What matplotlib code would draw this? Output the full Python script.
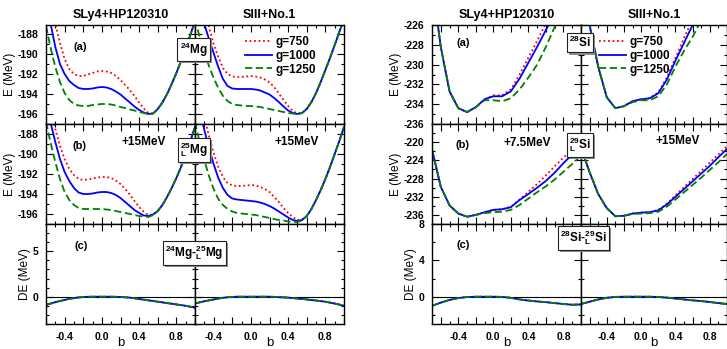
import matplotlib
matplotlib.use("Agg")
import matplotlib.pyplot as plt
from matplotlib import patheffects
from matplotlib.ticker import MultipleLocator, FuncFormatter

plt.rcParams['font.family'] = ['Liberation Sans', 'DejaVu Sans']
plt.rcParams['font.weight'] = 'bold'
plt.rcParams['axes.unicode_minus'] = False
plt.rcParams['mathtext.fontset'] = 'custom'
plt.rcParams['mathtext.rm'] = 'Liberation Sans:bold'
plt.rcParams['mathtext.bf'] = 'Liberation Sans:bold'
plt.rcParams['mathtext.it'] = 'Liberation Sans:bold'
plt.rcParams['mathtext.default'] = 'bf'

# ---- data: deformation b and energies (MeV) for g = 750, 1000, 1250 ----
b_mg = [-0.6, -0.55, -0.5, -0.45, -0.4, -0.35, -0.3, -0.25, -0.2, -0.15, -0.1, -0.05, 0.0,
        0.05, 0.1, 0.15, 0.2, 0.25, 0.3, 0.35, 0.4, 0.45, 0.5, 0.55, 0.6, 0.65, 0.7,
        0.75, 0.8, 0.85, 0.9, 0.95, 1.0]
b_si = [-0.7, -0.6, -0.5, -0.4, -0.3, -0.2, -0.1, 0.0, 0.1, 0.2, 0.3, 0.4, 0.5, 0.6, 0.7, 0.8, 0.9, 1.0]
g_labels = ['g=750', 'g=1000', 'g=1250']

mg24_sly4_g750 = [-183.0, -185.0, -187.0, -188.9, -190.5, -191.5, -192.0, -192.2, -192.2, -192.05, -191.9, -191.75, -191.7,
                  -191.75, -191.9, -192.2, -192.6, -193.1, -193.6, -194.2, -194.85, -195.45, -195.9, -195.95, -195.5, -194.85, -194.0,
                  -193.0, -191.9, -190.7, -189.4, -188.1, -186.7]
mg24_sly4_g1000 = [-184.8, -187.0, -189.3, -191.0, -192.0, -192.7, -193.1, -193.4, -193.5, -193.5, -193.45, -193.35, -193.3,
                   -193.35, -193.5, -193.75, -194.05, -194.45, -194.85, -195.25, -195.6, -195.85, -196.0, -195.95, -195.5, -194.85, -194.0,
                   -193.0, -191.9, -190.7, -189.4, -188.1, -186.7]
mg24_sly4_g1250 = [-187.2, -189.4, -191.3, -192.8, -193.9, -194.6, -195.0, -195.15, -195.2, -195.2, -195.1, -195.05, -195.0,
                   -195.0, -195.05, -195.15, -195.3, -195.4, -195.55, -195.65, -195.8, -195.9, -196.0, -195.95, -195.5, -194.85, -194.0,
                   -193.0, -191.9, -190.7, -189.4, -188.1, -186.7]

mg24_siii_g750 = [-181.5, -183.5, -185.5, -187.3, -189.0, -190.3, -191.4, -192.0, -192.25, -192.3, -192.3, -192.25, -192.2,
                  -192.25, -192.35, -192.55, -192.85, -193.3, -193.95, -194.6, -195.2, -195.7, -195.95, -195.9, -195.5, -194.8, -193.9,
                  -192.8, -191.6, -190.4, -189.1, -187.8, -186.5]
mg24_siii_g1000 = [-183.5, -185.3, -187.0, -188.5, -189.9, -191.3, -192.5, -193.2, -193.45, -193.5, -193.5, -193.5, -193.5,
                   -193.55, -193.65, -193.85, -194.05, -194.4, -194.8, -195.25, -195.65, -195.9, -196.0, -195.9, -195.5, -194.8, -193.9,
                   -192.8, -191.6, -190.4, -189.1, -187.8, -186.5]
mg24_siii_g1250 = [-186.5, -188.3, -189.9, -191.2, -192.4, -193.4, -194.2, -194.7, -195.0, -195.1, -195.15, -195.2, -195.2,
                   -195.25, -195.3, -195.4, -195.5, -195.6, -195.7, -195.8, -195.9, -195.95, -196.0, -195.9, -195.5, -194.8, -193.9,
                   -192.8, -191.6, -190.4, -189.1, -187.8, -186.5]

mg25_sly4_g750 = [-183.5, -185.5, -187.5, -189.2, -190.5, -191.5, -192.1, -192.5, -192.6, -192.55, -192.45, -192.35, -192.3,
                  -192.3, -192.4, -192.65, -193.0, -193.5, -194.05, -194.7, -195.3, -195.8, -196.1, -196.05, -195.7, -195.1, -194.3,
                  -193.4, -192.4, -191.3, -190.0, -188.7, -187.3]
mg25_sly4_g1000 = [-185.0, -186.9, -188.8, -190.5, -191.8, -192.7, -193.4, -193.85, -194.0, -194.0, -193.95, -193.85, -193.8,
                   -193.8, -193.9, -194.1, -194.4, -194.8, -195.2, -195.6, -195.9, -196.15, -196.2, -196.05, -195.7, -195.1, -194.3,
                   -193.4, -192.4, -191.3, -190.0, -188.7, -187.3]
mg25_sly4_g1250 = [-186.8, -188.9, -190.8, -192.5, -193.8, -194.6, -195.1, -195.4, -195.5, -195.5, -195.5, -195.5, -195.5,
                   -195.55, -195.6, -195.7, -195.8, -195.9, -196.0, -196.1, -196.2, -196.25, -196.3, -196.1, -195.7, -195.1, -194.3,
                   -193.4, -192.4, -191.3, -190.0, -188.7, -187.3]

mg25_siii_g750 = [-182.0, -184.2, -186.3, -188.2, -189.9, -191.3, -192.3, -192.9, -193.15, -193.2, -193.2, -193.15, -193.1,
                  -193.15, -193.3, -193.5, -193.8, -194.3, -194.8, -195.4, -195.9, -196.3, -196.6, -196.55, -196.2, -195.5, -194.6,
                  -193.6, -192.5, -191.3, -190.0, -188.7, -187.3]
mg25_siii_g1000 = [-183.5, -185.6, -187.6, -189.4, -191.0, -192.4, -193.4, -194.1, -194.45, -194.55, -194.6, -194.65, -194.7,
                   -194.75, -194.85, -195.0, -195.2, -195.45, -195.75, -196.05, -196.35, -196.6, -196.7, -196.6, -196.2, -195.5, -194.6,
                   -193.6, -192.5, -191.3, -190.0, -188.7, -187.3]
mg25_siii_g1250 = [-186.8, -188.8, -190.6, -192.2, -193.5, -194.5, -195.1, -195.5, -195.75, -195.9, -195.95, -196.0, -196.05,
                   -196.1, -196.2, -196.3, -196.4, -196.5, -196.6, -196.65, -196.75, -196.8, -196.8, -196.65, -196.2, -195.5, -194.6,
                   -193.6, -192.5, -191.3, -190.0, -188.7, -187.3]

de_mg_sly4 = [-0.9, -0.75, -0.6, -0.47, -0.35, -0.24, -0.15, -0.08, -0.03, -0.01, 0.0, 0.0, 0.0,
              0.0, 0.0, -0.01, -0.03, -0.06, -0.1, -0.17, -0.25, -0.32, -0.4, -0.47, -0.55, -0.62, -0.7,
              -0.77, -0.85, -0.92, -1.0, -1.1, -1.2]
de_mg_siii = [-0.74, -0.62, -0.5, -0.4, -0.3, -0.2, -0.12, -0.06, -0.02, 0.0, 0.0, 0.0, 0.0,
              0.0, 0.0, 0.0, 0.0, -0.02, -0.05, -0.07, -0.1, -0.15, -0.2, -0.25, -0.3, -0.36, -0.42,
              -0.48, -0.55, -0.65, -0.75, -0.87, -1.0]

si28_sly4_g750 = [-221.5, -228.2, -232.7, -234.4, -234.8, -234.3, -233.5, -233.1, -233.1, -232.5, -231.0, -229.3, -227.6, -225.8, -224.0, -222.2, -220.4, -218.6]
si28_sly4_g1000 = [-221.5, -228.2, -232.7, -234.4, -234.8, -234.3, -233.5, -233.2, -233.2, -232.7, -231.4, -229.8, -228.2, -226.5, -224.8, -223.0, -221.0, -219.0]
si28_sly4_g1250 = [-221.5, -228.2, -232.7, -234.4, -234.8, -234.3, -233.6, -233.6, -233.7, -233.4, -232.5, -231.3, -230.0, -228.2, -226.2, -224.2, -222.2, -220.2]

si28_siii_g750 = [-220.0, -226.0, -230.2, -233.3, -234.4, -234.2, -233.7, -233.5, -233.4, -232.8, -231.3, -229.3, -227.3, -225.4, -223.4, -221.4, -219.4, -217.4]
si28_siii_g1000 = [-220.0, -226.0, -230.2, -233.3, -234.4, -234.2, -233.7, -233.5, -233.4, -232.9, -231.5, -229.6, -227.8, -226.0, -224.0, -222.0, -220.0, -218.0]
si28_siii_g1250 = [-220.0, -226.0, -230.2, -233.3, -234.4, -234.2, -233.8, -233.6, -233.6, -233.2, -232.0, -230.2, -228.6, -227.2, -225.5, -223.8, -222.0, -220.2]

si29_sly4_g750 = [-221.6, -229.8, -233.9, -235.7, -236.4, -236.0, -235.4, -234.9, -234.75, -234.2, -232.6, -230.9, -229.2, -227.3, -225.3, -223.4, -221.6, -220.0]
si29_sly4_g1000 = [-221.6, -229.8, -233.9, -235.7, -236.4, -236.0, -235.4, -234.9, -234.75, -234.3, -232.7, -231.4, -230.0, -228.5, -226.7, -224.6, -222.7, -221.0]
si29_sly4_g1250 = [-221.6, -229.8, -233.9, -235.7, -236.4, -236.0, -235.6, -235.4, -235.3, -234.9, -233.8, -232.4, -231.0, -229.7, -228.2, -226.5, -224.8, -223.0]

si29_siii_g750 = [-221.2, -226.6, -231.4, -234.5, -236.3, -236.2, -235.7, -235.5, -235.4, -234.9, -233.5, -231.7, -229.9, -228.1, -226.3, -224.5, -222.7, -220.9]
si29_siii_g1000 = [-221.2, -226.6, -231.4, -234.5, -236.3, -236.2, -235.7, -235.5, -235.4, -235.0, -233.7, -232.0, -230.3, -228.6, -226.9, -225.2, -223.3, -221.5]
si29_siii_g1250 = [-221.2, -226.6, -231.4, -234.5, -236.3, -236.2, -235.8, -235.7, -235.6, -235.3, -234.2, -232.6, -231.0, -229.4, -227.8, -226.1, -224.4, -222.6]

de_si_sly4 = [-1.0, -0.65, -0.35, -0.15, -0.03, 0.0, 0.0, 0.0, -0.02, -0.12, -0.3, -0.42, -0.52, -0.6, -0.7, -0.8, -0.88, -0.85]
de_si_siii = [-0.8, -0.55, -0.3, -0.12, -0.02, 0.0, 0.0, 0.0, 0.0, -0.03, -0.1, -0.2, -0.3, -0.4, -0.48, -0.58, -0.7, -0.8]

# line styles for g=750, 1000, 1250
colors = ['#ff0000', '#0000ff', '#008000']
dashes = [(0, (1, 1.5)), '-', (0, (4, 2))]

W, H = 727, 349
fig = plt.figure(figsize=(W / 100, H / 100), dpi=100)


def pos(x0, x1, y0, y1):
    return [x0 / W, 1 - y1 / H, (x1 - x0) / W, (y1 - y0) / H]


def xfmt(v, p):
    k = v / 0.4
    return "%.1f" % v if abs(k - round(k)) < 1e-6 else ""


def setup(ax, xlim, ylim, ymaj, ymin, left, bottom, hide=()):
    ax.set_xlim(xlim)
    ax.set_ylim(ylim)
    ax.xaxis.set_major_locator(MultipleLocator(0.2))
    ax.xaxis.set_minor_locator(MultipleLocator(0.1))
    ax.yaxis.set_major_locator(MultipleLocator(ymaj))
    ax.yaxis.set_minor_locator(MultipleLocator(ymin))
    ax.xaxis.set_major_formatter(FuncFormatter(xfmt))
    ax.yaxis.set_major_formatter(FuncFormatter(
        lambda v, p: "" if round(v) in hide else "%d" % round(v)))
    ax.tick_params(which='both', direction='in', top=True, right=True,
                   width=0.8, labelsize=7.5, pad=5.5)
    ax.tick_params(which='major', length=5)
    ax.tick_params(which='minor', length=2.5)
    ax.tick_params(labelleft=left, labelbottom=bottom)
    for s in ax.spines.values():
        s.set_linewidth(1.0)


def curves(ax, b, ys):
    lines = []
    for y, c, ls, lab in zip(ys, colors, dashes, g_labels):
        ln, = ax.plot(b, y, color=c, ls=ls, lw=1.3, label=lab)
        lines.append(ln)
    return lines


def nucleus(x, y, s):
    t = fig.text(x / W, 1 - y / H, s, fontsize=8.5, ha='center', va='center',
                 bbox=dict(boxstyle='square,pad=0.2', fc='white', ec='#222222', lw=0.8))
    t.get_bbox_patch().set_path_effects([
        patheffects.SimplePatchShadow(offset=(1.5, -1.5), shadow_rgbFace='#8c8c8c', alpha=1.0),
        patheffects.Normal()])


groups = [
    dict(x=(46, 195, 344), xlim=(-0.6, 1.0), b=b_mg,
         rows=[((-197, -187.1), 2, 1, ()), ((-197, -187), 2, 1, ()), ((-3, 8), 5, 1, ())],
         data=[[mg24_sly4_g750, mg24_sly4_g1000, mg24_sly4_g1250],
               [mg24_siii_g750, mg24_siii_g1000, mg24_siii_g1250],
               [mg25_sly4_g750, mg25_sly4_g1000, mg25_sly4_g1250],
               [mg25_siii_g750, mg25_siii_g1000, mg25_siii_g1250]],
         de=[de_mg_sly4, de_mg_siii],
         shift=['+15MeV', '+15MeV'], shift_xy=[(0.658, 0.82), (0.683, 0.82)],
         lab_xy=[(0.228, 0.778), (0.228, 0.78), (0.238, 0.78)],
         nuclei=[(193.5, 49.5, r'${}^{24}$Mg'), (194, 150, r'${}_{L}^{25}$Mg'),
                 (194.5, 253, r'${}^{24}$Mg-${}_{L}^{25}$Mg')],
         leg=(245, 36)),
    dict(x=(432, 581, 727), xlim=(-0.7, 1.0), b=b_si,
         rows=[((-236, -226), 2, 1, ()), ((-238, -216), 4, 2, (-216,)), ((-3, 8), 4, 2, ())],
         data=[[si28_sly4_g750, si28_sly4_g1000, si28_sly4_g1250],
               [si28_siii_g750, si28_siii_g1000, si28_siii_g1250],
               [si29_sly4_g750, si29_sly4_g1000, si29_sly4_g1250],
               [si29_siii_g750, si29_siii_g1000, si29_siii_g1250]],
         de=[de_si_sly4, de_si_siii],
         shift=['+7.5MeV', '+15MeV'], shift_xy=[(0.636, 0.81), (0.664, 0.83)],
         lab_xy=[(0.208, 0.82), (0.208, 0.79), (0.208, 0.79)],
         nuclei=[(580, 42.5, r'${}^{28}$Si'), (580, 145, r'${}_{L}^{29}$Si'),
                 (583.5, 238, r'${}^{28}$Si-${}_{L}^{29}$Si')],
         leg=(599, 36)),
]

row_y = [(25, 124), (124, 224), (224, 324)]
titles = ['SLy4+HP120310', 'SIII+No.1']
tags = ['(a)', '(b)', '(c)']

for g in groups:
    x0, xm, x1 = g['x']
    cols = [(x0, xm), (xm, x1)]
    for r, (ya, yb) in enumerate(row_y):
        ylim, ymaj, ymin, hide = g['rows'][r]
        for c, (xa, xb) in enumerate(cols):
            ax = fig.add_axes(pos(xa, xb, ya, yb))
            setup(ax, g['xlim'], ylim, ymaj, ymin, c == 0, r == 2, hide)
            if r < 2:
                lines = curves(ax, g['b'], g['data'][2 * r + c])
            else:
                ax.axhline(0, color='black', lw=0.8, zorder=1)
                curves(ax, g['b'], [g['de'][c]] * 3)
                ax.set_xlabel('b', fontsize=9.5, labelpad=-3)
            if r == 0:
                ax.set_title(titles[c], fontsize=9, fontweight='bold', pad=5)
                if c == 1:
                    ax.legend(handles=lines, loc='upper left',
                              bbox_to_anchor=(g['leg'][0] / W, 1 - g['leg'][1] / H),
                              bbox_transform=fig.transFigure, frameon=False,
                              fontsize=8.5, handlelength=2.3, handletextpad=0.3,
                              labelspacing=0.15, borderpad=0, borderaxespad=0)
            if r == 1:
                sx, sy = g['shift_xy'][c]
                ax.text(sx, sy, g['shift'][c], transform=ax.transAxes,
                        fontsize=8.5, ha='center', va='center')
            if c == 0:
                tx, ty = g['lab_xy'][r]
                ax.text(tx, ty, tags[r], transform=ax.transAxes,
                        fontsize=8, ha='center', va='center')
                ax.set_ylabel('DE (MeV)' if r == 2 else 'E (MeV)', fontsize=8.5, labelpad=1)
    for (nx, ny, s) in g['nuclei']:
        nucleus(nx, ny, s)

fig.savefig('out.png', dpi=100)
